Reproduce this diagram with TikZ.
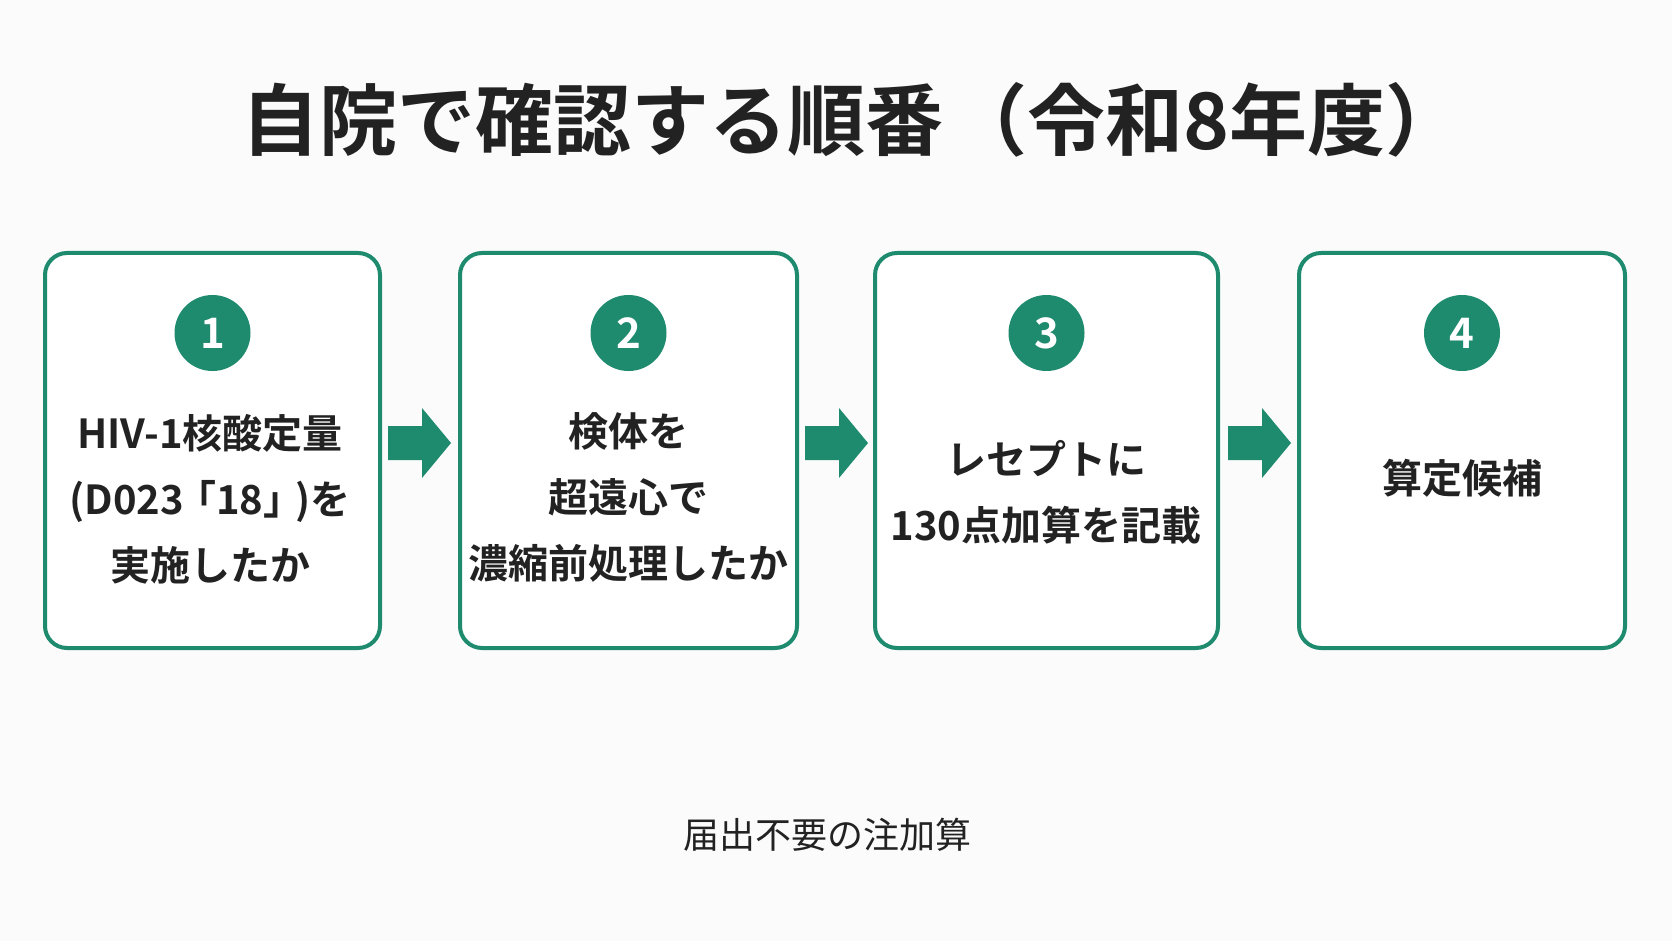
\documentclass[tikz,border=0pt]{standalone}
\usepackage{fontspec}
\setmainfont{Noto Sans CJK JP}
\newfontfamily\jpb{Noto Sans CJK JP}[BoldFont={* Bold}]
\definecolor{grn}{HTML}{1E8A6E}
\definecolor{ink}{HTML}{222222}
\begin{document}
\begin{tikzpicture}[x=1pt,y=-1pt,
  box/.style={draw=grn,line width=4pt,rounded corners=22pt,fill=white},
  num/.style={circle,fill=grn,text=white,minimum size=76pt,inner sep=0pt,font=\jpb\bfseries\fontsize{42}{42}\selectfont},
  txt/.style={text=ink,align=center,font=\jpb\bfseries\fontsize{40}{66}\selectfont},
  arr/.style={fill=grn}]
\fill[white!97!gray] (0,0) rectangle (1672,941);
\useasboundingbox (0,0) rectangle (1672,941);
\node[text=ink,font=\jpb\bfseries\fontsize{78}{78}\selectfont] (title) at (853,120) {自院で確認する順番\hspace{6pt}（令和8年度）};
\foreach \n/\l/\r in {1/45/380,2/460/797,3/875/1218,4/1299/1625}{
  \draw[box] (\l,253) rectangle (\r,648);
  \node[num] (c\n) at ({(\l+\r)/2},333) {\n};
}
\node[txt] (t1) at (210,499) {HIV-1核酸定量\\(D023\kern-8pt「18」\kern-8pt)を\\実施したか};
\node[txt] (t2) at (628,497) {検体を\\超遠心で\\濃縮前処理したか};
\node[txt] (t3) at (1046,492) {レセプトに\\130点加算を記載};
\node[txt] (t4) at (1462,478) {算定候補};
\foreach \x in {388,805,1228}{
  \fill[arr] (\x,426) -- (\x+34,426) -- (\x+34,408) -- (\x+63,443) -- (\x+34,478) -- (\x+34,460) -- (\x,460) -- cycle;
}
\node[text=ink,font=\jpb\fontsize{36}{36}\selectfont] (note) at (827,835) {届出不要の注加算};
\end{tikzpicture}
\end{document}
